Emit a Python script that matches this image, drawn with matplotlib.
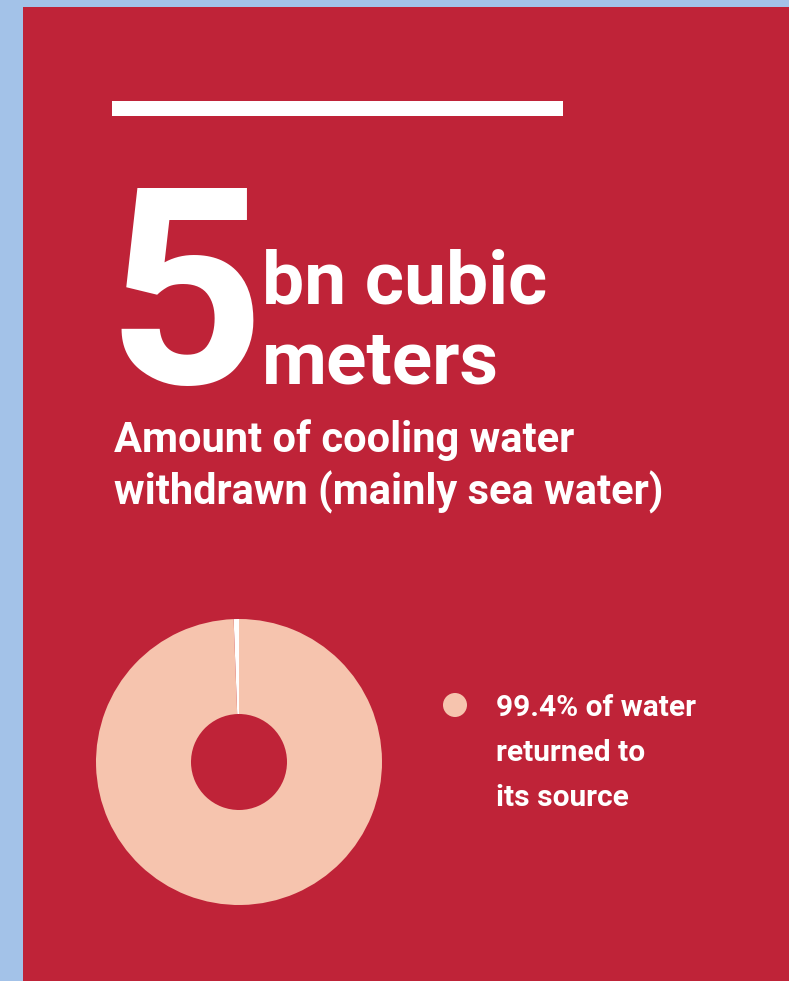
import matplotlib
matplotlib.use("Agg")
import matplotlib.pyplot as plt
from matplotlib.patches import Rectangle, Circle

# ---------- data ----------
headline_value = "5"
headline_unit = ["bn cubic", "meters"]
subtitle = ["Amount of cooling water", "withdrawn (mainly sea water)"]
share_labels = ["not returned", "returned to source"]
share_values = [0.6, 99.4]
legend_lines = ["99.4% of water", "returned to", "its source"]

# ---------- style ----------
W, H = 789, 981
BLUE = "#a3c2e8"
RED = "#bf2338"
PEACH = "#f6c4ae"
WHITE = "#ffffff"
FONT = ["Roboto", "DejaVu Sans"]
NARROW = ["Liberation Sans Narrow", "Roboto", "DejaVu Sans"]


def px(x, y):
    """pixel coords (top-left origin) -> figure fraction"""
    return x / W, 1 - y / H


fig = plt.figure(figsize=(W / 100, H / 100), dpi=100)
fig.patch.set_facecolor(BLUE)

# background axes holding the red panel and the white bar
bg = fig.add_axes([0, 0, 1, 1], zorder=-5)
bg.set_xlim(0, W)
bg.set_ylim(H, 0)
bg.set_axis_off()
bg.add_patch(Rectangle((23, 7), W - 23, H - 7, facecolor=RED, edgecolor="none"))
bg.add_patch(Rectangle((112, 101), 563 - 112, 15, facecolor=WHITE, edgecolor="none"))
bg.add_patch(Circle((455, 705), 12, facecolor=PEACH, edgecolor="none"))

# headline
fig.text(*px(106, 383), headline_value, color=WHITE, fontsize=198, fontweight="bold",
         family=NARROW, va="baseline", ha="left")
for i, line in enumerate(headline_unit):
    fig.text(*px(262, 303 + i * 80), line, color=WHITE, fontsize=54, fontweight="bold",
             family=FONT, va="baseline", ha="left")
for i, line in enumerate(subtitle):
    fig.text(*px(114, 452 + i * 53), line, color=WHITE, fontsize=30, fontweight="bold",
             family=FONT, va="baseline", ha="left")

# donut
cx, cy, r = 239, 762, 143
ax = fig.add_axes([(cx - r) / W, (H - cy - r) / H, 2 * r / W, 2 * r / H])
ax.pie(share_values, colors=[WHITE, PEACH], startangle=90, counterclock=True,
       radius=1, wedgeprops=dict(width=1 - 48 / 143, edgecolor="none"))
ax.set_xlim(-1, 1)
ax.set_ylim(-1, 1)
ax.set_axis_off()

# legend text
for i, line in enumerate(legend_lines):
    fig.text(*px(496, 716 + i * 45), line, color=WHITE, fontsize=21.5, fontweight="bold",
             family=FONT, va="baseline", ha="left")

fig.savefig("out.png", dpi=100, facecolor=fig.get_facecolor())
